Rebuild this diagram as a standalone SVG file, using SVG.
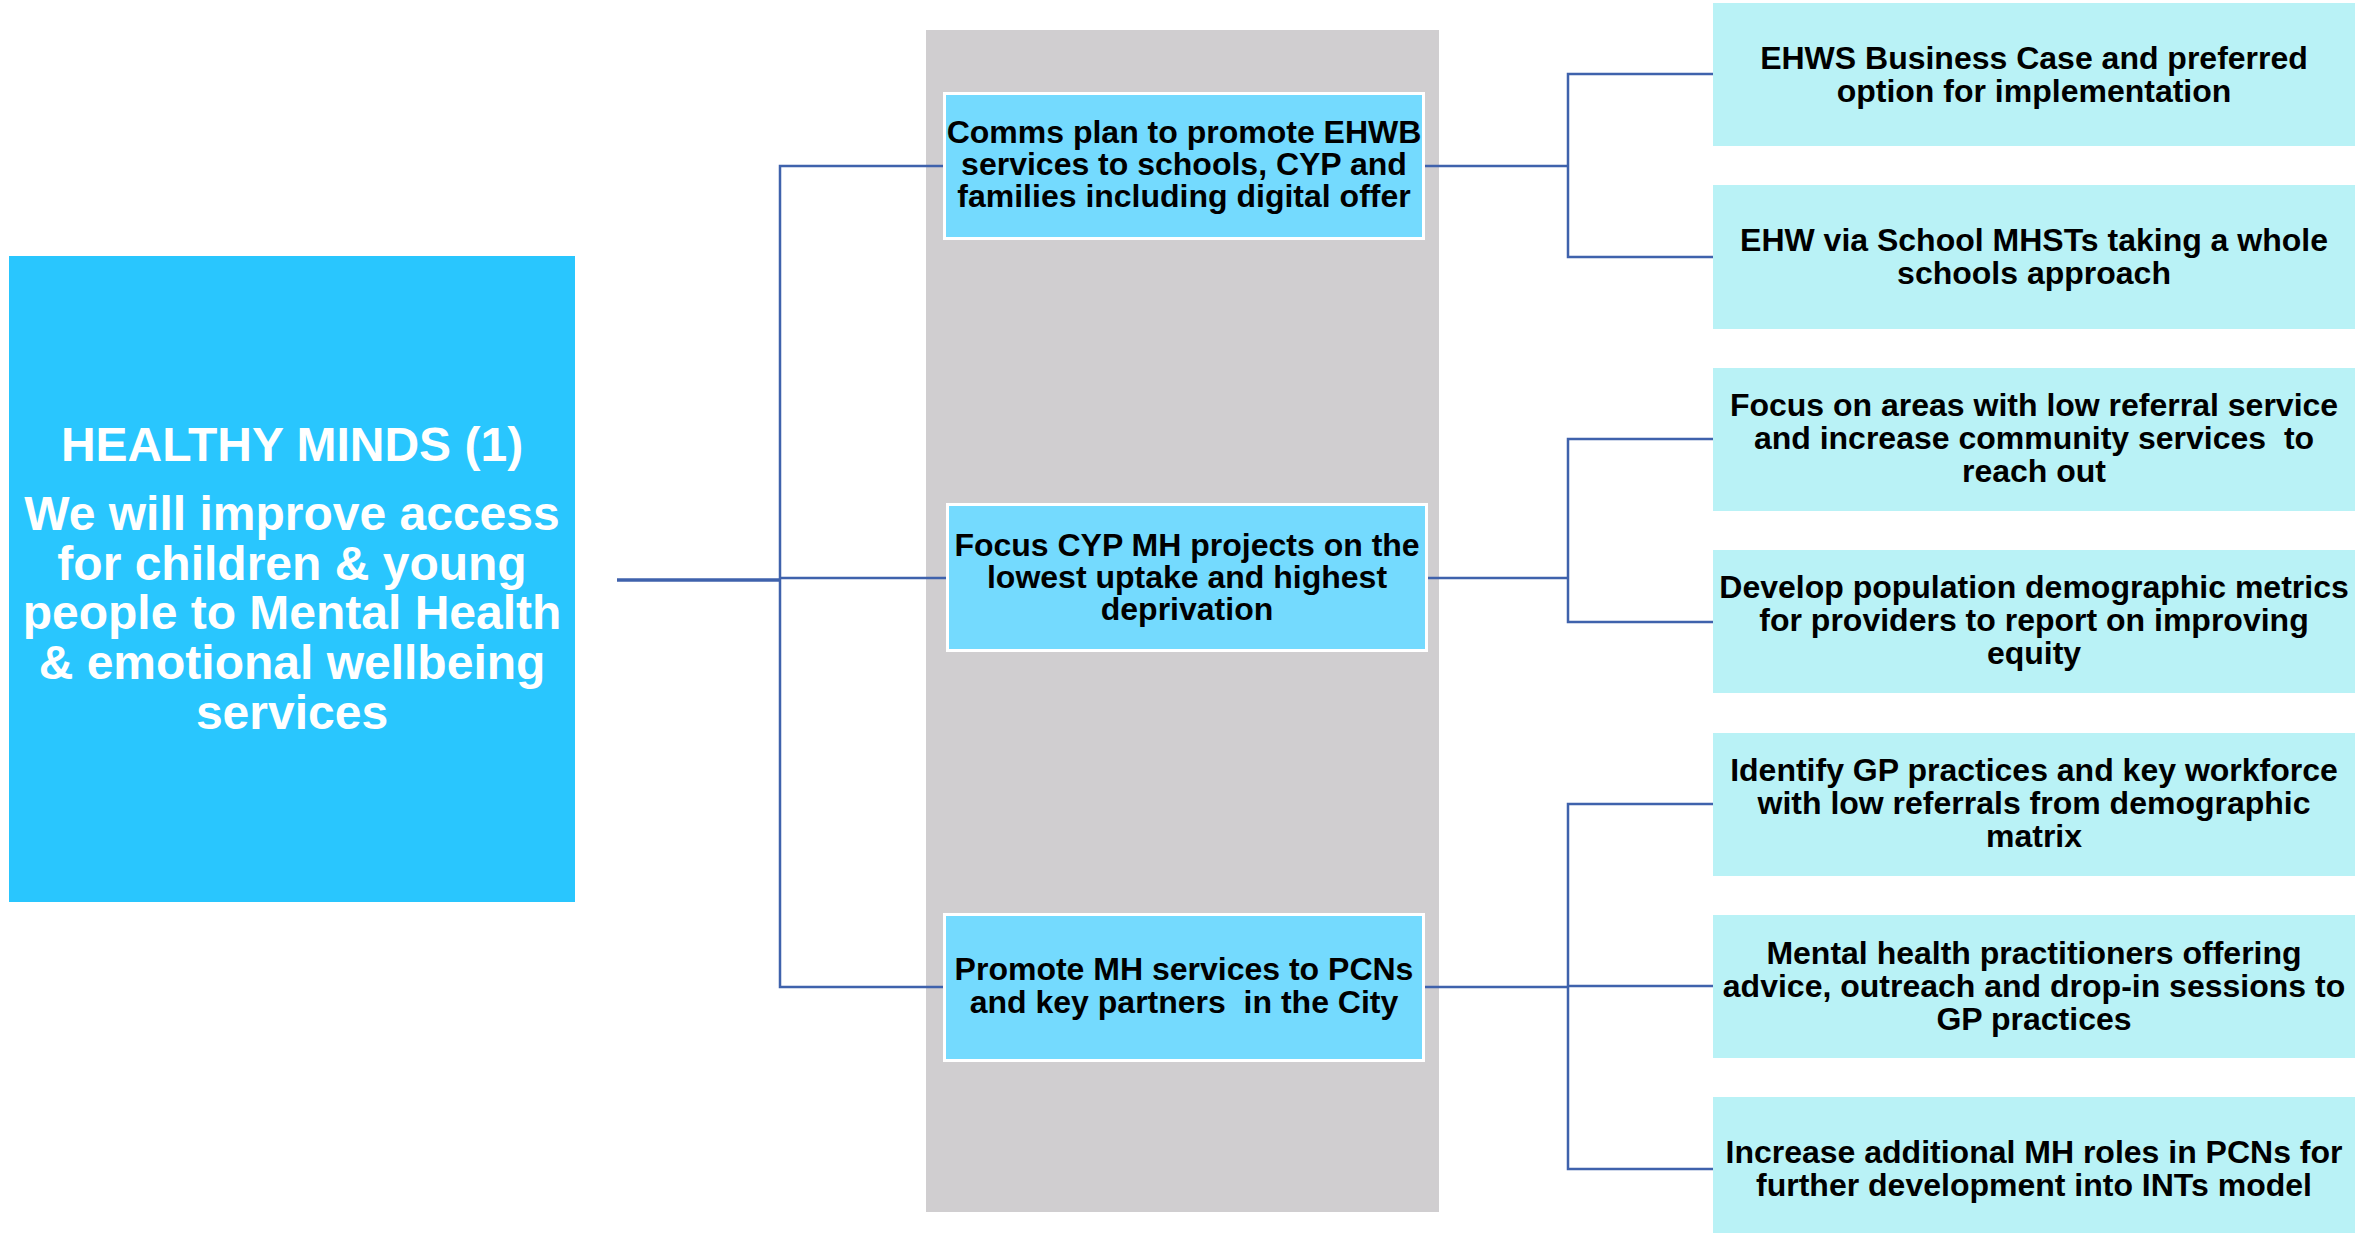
<svg xmlns="http://www.w3.org/2000/svg" width="2374" height="1233" viewBox="0 0 2374 1233">
<style>
  text { font-family: "Liberation Sans", Arial, sans-serif; font-weight: bold; text-anchor: middle; white-space: pre; }
  .main { fill: #29C6FE; }
  .mainT { fill: #FFFFFF; font-size: 48px; }
  .mid { fill: #74DAFE; stroke: #FFFFFF; stroke-width: 3; }
  .midT { fill: #000000; font-size: 32px; }
  .leaf { fill: #B9F2F6; }
  .leafT { fill: #000000; font-size: 32px; }
  .conn { fill: none; stroke: #3F62AC; stroke-width: 2.5; }
</style>
<rect x="0" y="0" width="2374" height="1233" fill="#FFFFFF"/>
<rect id="panel" x="926" y="30" width="513" height="1182" fill="#D0CED0"/>

<g id="connectors">
  <path class="conn" d="M617 580 H780" style="stroke-width:3.5"/>
  <path class="conn" d="M943 166 H780 V987 H943"/>
  <path class="conn" d="M780 578 H946"/>
  <path class="conn" d="M1425 166 H1568"/>
  <path class="conn" d="M1713 74 H1568 V257 H1713"/>
  <path class="conn" d="M1428 578 H1568"/>
  <path class="conn" d="M1713 439 H1568 V622 H1713"/>
  <path class="conn" d="M1425 987 H1568"/>
  <path class="conn" d="M1713 804 H1568 V1169 H1713"/>
  <path class="conn" d="M1568 986 H1713"/>
</g>

<g id="node-main">
  <rect class="main" x="9" y="256" width="566" height="646"/>
  <text class="mainT" x="292" y="461">HEALTHY MINDS (1)</text>
  <text class="mainT" x="292" y="530">We will improve access</text>
  <text class="mainT" x="292" y="579.5">for children &amp; young</text>
  <text class="mainT" x="292" y="629">people to Mental Health</text>
  <text class="mainT" x="292" y="678.5">&amp; emotional wellbeing</text>
  <text class="mainT" x="292" y="728.5">services</text>
</g>

<g id="node-comms">
  <rect class="mid" x="944.5" y="93.5" width="479" height="145"/>
  <text class="midT" x="1184" y="143">Comms plan to promote EHWB</text>
  <text class="midT" x="1184" y="175">services to schools, CYP and</text>
  <text class="midT" x="1184" y="207">families including digital offer</text>
</g>

<g id="node-focus">
  <rect class="mid" x="947.5" y="504.5" width="479" height="146"/>
  <text class="midT" x="1187" y="556">Focus CYP MH projects on the</text>
  <text class="midT" x="1187" y="588">lowest uptake and highest</text>
  <text class="midT" x="1187" y="620">deprivation</text>
</g>

<g id="node-promote">
  <rect class="mid" x="944.5" y="914.5" width="479" height="146"/>
  <text class="midT" x="1184" y="980">Promote MH services to PCNs</text>
  <text class="midT" x="1184" y="1013">and key partners  in the City</text>
</g>

<g id="node-ehws">
  <rect class="leaf" x="1713" y="3" width="642" height="143"/>
  <text class="leafT" x="2034" y="69">EHWS Business Case and preferred</text>
  <text class="leafT" x="2034" y="102">option for implementation</text>
</g>

<g id="node-ehw">
  <rect class="leaf" x="1713" y="185" width="642" height="144"/>
  <text class="leafT" x="2034" y="251">EHW via School MHSTs taking a whole</text>
  <text class="leafT" x="2034" y="284">schools approach</text>
</g>

<g id="node-areas">
  <rect class="leaf" x="1713" y="368" width="642" height="143"/>
  <text class="leafT" x="2034" y="416">Focus on areas with low referral service</text>
  <text class="leafT" x="2034" y="449">and increase community services  to</text>
  <text class="leafT" x="2034" y="482">reach out</text>
</g>

<g id="node-metrics">
  <rect class="leaf" x="1713" y="550" width="642" height="143"/>
  <text class="leafT" x="2034" y="598">Develop population demographic metrics</text>
  <text class="leafT" x="2034" y="631">for providers to report on improving</text>
  <text class="leafT" x="2034" y="664">equity</text>
</g>

<g id="node-gp">
  <rect class="leaf" x="1713" y="733" width="642" height="143"/>
  <text class="leafT" x="2034" y="781">Identify GP practices and key workforce</text>
  <text class="leafT" x="2034" y="814">with low referrals from demographic</text>
  <text class="leafT" x="2034" y="847">matrix</text>
</g>

<g id="node-practitioners">
  <rect class="leaf" x="1713" y="915" width="642" height="143"/>
  <text class="leafT" x="2034" y="964">Mental health practitioners offering</text>
  <text class="leafT" x="2034" y="997">advice, outreach and drop-in sessions to</text>
  <text class="leafT" x="2034" y="1030">GP practices</text>
</g>

<g id="node-roles">
  <rect class="leaf" x="1713" y="1097" width="642" height="144"/>
  <text class="leafT" x="2034" y="1163">Increase additional MH roles in PCNs for</text>
  <text class="leafT" x="2034" y="1196">further development into INTs model</text>
</g>
</svg>
